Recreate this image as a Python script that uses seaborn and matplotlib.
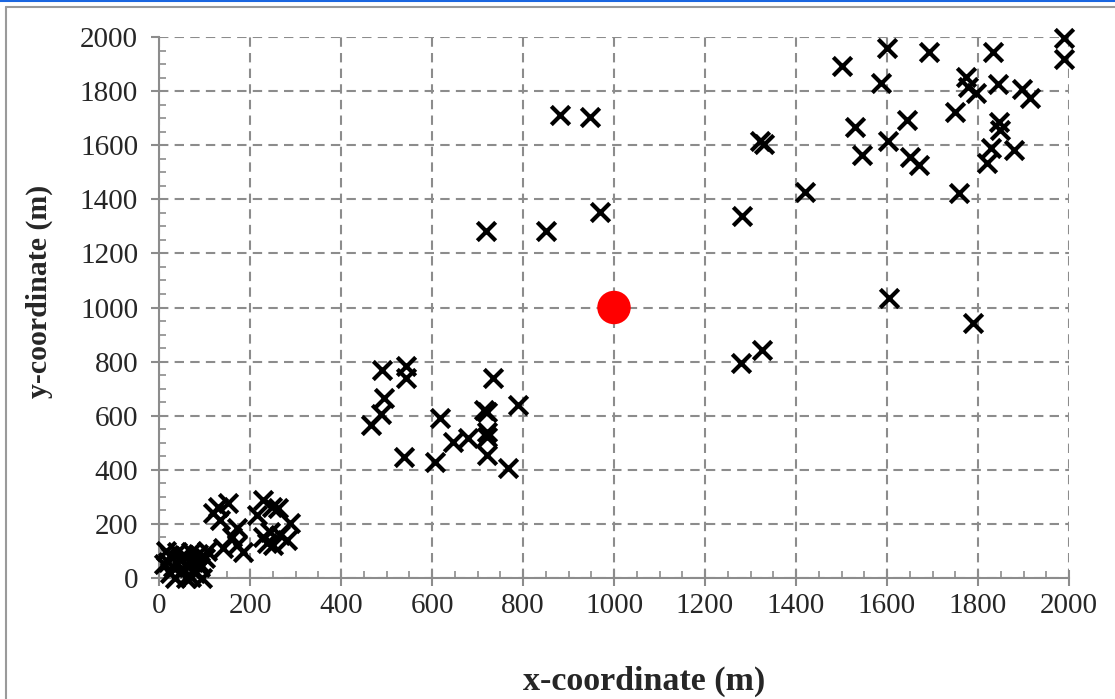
import matplotlib
matplotlib.use("Agg")
import matplotlib.pyplot as plt
from matplotlib.lines import Line2D
from matplotlib.ticker import MultipleLocator
import pandas as pd
import seaborn as sns

# sensor positions (m)
x_pts = [15, 20, 25, 30, 35, 40, 45, 50, 55, 60, 65, 70, 75, 80, 85, 90, 95, 100,
         105, 60, 70, 25, 40, 85, 10,
         130, 152, 119, 134, 171, 160, 141, 185, 171, 229, 248, 262, 215, 288,
         244, 266, 229, 251, 237, 281,
         490, 543, 543, 495, 488, 466, 538, 618, 607, 646, 679, 715, 720, 720,
         720, 720, 767, 789, 734,
         881, 947, 969, 719, 851,
         1279, 1325, 1281, 1320, 1330, 1420, 1501, 1530, 1545, 1587, 1600, 1602,
         1692, 1644, 1651, 1670, 1749, 1758, 1774, 1778, 1796, 1833, 1844, 1829,
         1820, 1846, 1848, 1879, 1897, 1914, 1990, 1990, 1604, 1789]
y_pts = [100, 60, 80, 40, 0, 95, 70, 30, 85, 50, 10, 95, 60, 20, 90, 40, 0, 75,
         100, 0, 5, 20, 55, 60, 50,
         262, 277, 240, 214, 185, 152, 111, 96, 122, 288, 262, 259, 233, 203,
         170, 159, 152, 122, 129, 140,
         770, 784, 740, 665, 606, 566, 447, 592, 429, 503, 518, 622, 612, 540,
         520, 455, 407, 640, 739,
         1712, 1705, 1353, 1283, 1283,
         793, 843, 1338, 1615, 1605, 1427, 1893, 1667, 1564, 1830, 1959, 1615,
         1944, 1693, 1556, 1527, 1723, 1423, 1852, 1815, 1793, 1944, 1826, 1590,
         1534, 1686, 1656, 1582, 1808, 1775, 1995, 1920, 1035, 943]

# base station
bs_x = [1000]
bs_y = [1000]

x_label = "x-coordinate (m)"
y_label = "y-coordinate (m)"

sensors = pd.DataFrame({"x": x_pts, "y": y_pts})
base = pd.DataFrame({"x": bs_x, "y": bs_y})

sns.set_style("white")
plt.rcParams["font.family"] = ["Liberation Serif", "DejaVu Serif"]

fig = plt.figure(figsize=(11.15, 6.99), dpi=100)
ax = fig.add_axes([159 / 1115, 1 - 578 / 699, 910 / 1115, 541 / 699])

grid_col = "#8c8c8c"
ax.xaxis.set_major_locator(MultipleLocator(200))
ax.yaxis.set_major_locator(MultipleLocator(200))
ax.xaxis.set_minor_locator(MultipleLocator(50))
ax.yaxis.set_minor_locator(MultipleLocator(50))
ax.grid(True, which="major", color=grid_col, linestyle=(0, (4.5, 3)), linewidth=1.5)
ax.set_axisbelow(True)

sns.scatterplot(data=sensors, x="x", y="y", ax=ax, marker="x", color="black",
                s=175, linewidth=3.0, clip_on=False, zorder=3, legend=False)
sns.scatterplot(data=base, x="x", y="y", ax=ax, marker="o", color="red",
                s=580, edgecolor="none", clip_on=False, zorder=4, legend=False)

ax.set_xlim(0, 2000)
ax.set_ylim(0, 2000)

for side in ["top", "right"]:
    ax.spines[side].set_visible(False)
for side in ["left", "bottom"]:
    ax.spines[side].set_color(grid_col)
    ax.spines[side].set_linewidth(1.5)

ax.tick_params(axis="x", which="major", direction="inout", length=12, width=1.5,
               color=grid_col, labelsize=21, pad=5, bottom=True)
ax.tick_params(axis="y", which="major", direction="out", length=6, width=1.5,
               color=grid_col, labelsize=21, pad=9, left=True)
ax.tick_params(which="minor", direction="in", length=5, width=1.2, color=grid_col,
               bottom=True, left=True)

ax.set_xlabel(x_label, fontsize=24.5, fontweight="bold")
ax.set_ylabel(y_label, fontsize=21.5, fontweight="bold")
# Excel centres the titles on the chart area, not the plot area
ax.xaxis.set_label_coords(0.533, -0.163)
ax.yaxis.set_label_coords(-0.117, 0.529)

# chart area border remnants
fig.add_artist(Line2D([0, 1], [1 - 0.5 / 699, 1 - 0.5 / 699], color="#1a66e0", lw=1.5))
fig.add_artist(Line2D([6 / 1115, 1], [1 - 7 / 699, 1 - 7 / 699], color="#9a9a9a", lw=1.5))
fig.add_artist(Line2D([6 / 1115, 6 / 1115], [0, 1 - 7 / 699], color="#9a9a9a", lw=1.5))

fig.savefig("out.png", dpi=100)
